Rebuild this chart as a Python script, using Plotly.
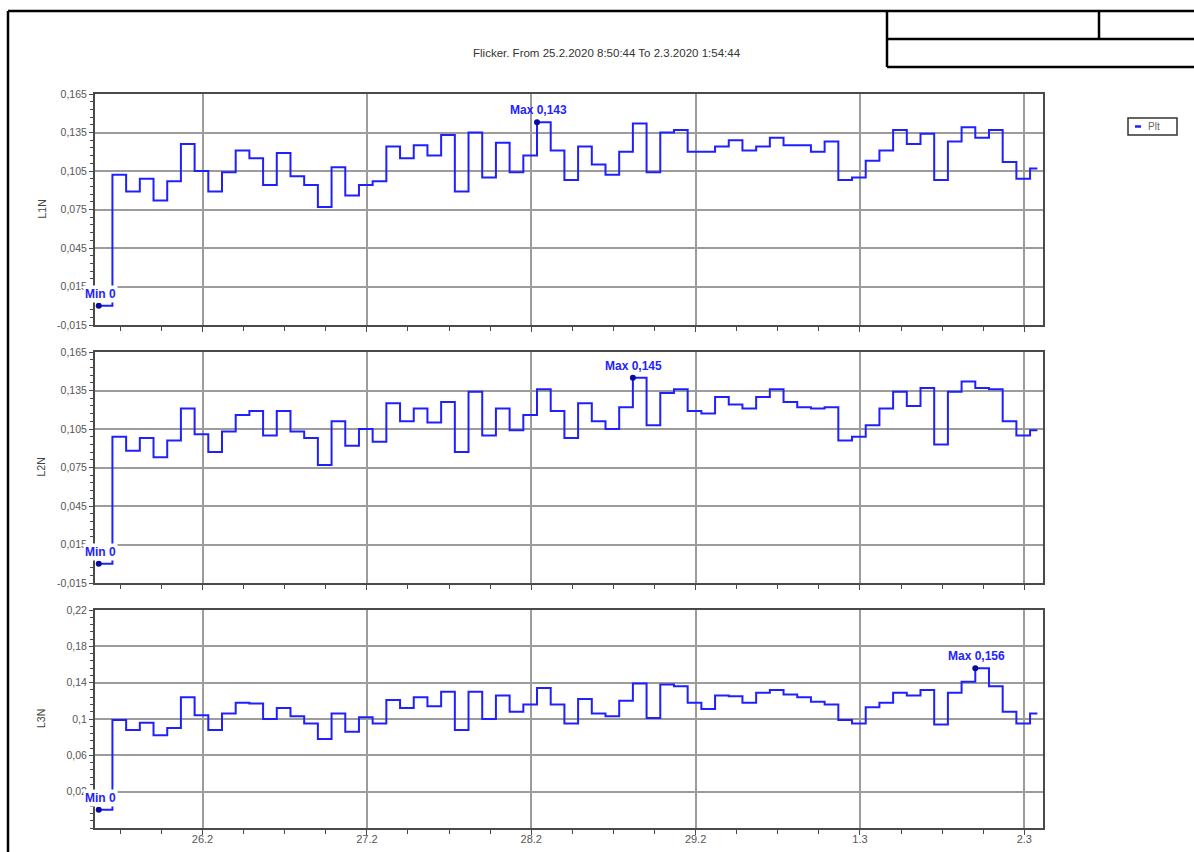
import pandas as pd
import plotly.graph_objects as go

# Measurement period and Plt aggregation interval
period_start = "2020-02-25 08:50:44"
period_end = "2020-03-02 01:54:44"
interval = "2h"

# Long-term flicker severity (Plt) per phase
l1n = [0.000, 0.102, 0.089, 0.099, 0.082, 0.097, 0.126, 0.105, 0.089, 0.104,
       0.121, 0.115, 0.094, 0.119, 0.101, 0.094, 0.077, 0.108, 0.086, 0.094,
       0.097, 0.124, 0.115, 0.125, 0.117, 0.133, 0.089, 0.135, 0.100, 0.127,
       0.104, 0.117, 0.143, 0.121, 0.098, 0.124, 0.110, 0.102, 0.120, 0.142,
       0.104, 0.135, 0.137, 0.120, 0.120, 0.124, 0.129, 0.121, 0.124, 0.131,
       0.125, 0.125, 0.120, 0.128, 0.098, 0.100, 0.113, 0.121, 0.137, 0.126,
       0.134, 0.098, 0.128, 0.139, 0.131, 0.137, 0.112, 0.099, 0.107]
l2n = [0.000, 0.099, 0.088, 0.098, 0.083, 0.096, 0.121, 0.101, 0.087, 0.103,
       0.116, 0.119, 0.100, 0.119, 0.103, 0.098, 0.077, 0.111, 0.092, 0.105,
       0.095, 0.125, 0.111, 0.121, 0.110, 0.126, 0.087, 0.134, 0.100, 0.121,
       0.104, 0.116, 0.136, 0.119, 0.098, 0.125, 0.111, 0.105, 0.122, 0.145,
       0.108, 0.133, 0.136, 0.119, 0.117, 0.130, 0.124, 0.121, 0.130, 0.136,
       0.126, 0.122, 0.121, 0.122, 0.096, 0.099, 0.108, 0.121, 0.134, 0.123,
       0.137, 0.093, 0.134, 0.142, 0.137, 0.136, 0.111, 0.100, 0.104]
l3n = [0.000, 0.099, 0.088, 0.096, 0.082, 0.090, 0.124, 0.104, 0.088, 0.106,
       0.118, 0.117, 0.100, 0.112, 0.103, 0.095, 0.078, 0.106, 0.086, 0.102,
       0.095, 0.121, 0.112, 0.124, 0.114, 0.130, 0.088, 0.130, 0.100, 0.126,
       0.108, 0.116, 0.134, 0.116, 0.095, 0.122, 0.106, 0.103, 0.120, 0.139,
       0.101, 0.138, 0.136, 0.118, 0.111, 0.126, 0.125, 0.118, 0.129, 0.132,
       0.127, 0.124, 0.119, 0.116, 0.099, 0.095, 0.113, 0.118, 0.129, 0.126,
       0.132, 0.094, 0.129, 0.141, 0.156, 0.136, 0.108, 0.095, 0.106]

panel_names = ["L1N", "L2N", "L3N"]
panel_values = [l1n, l2n, l3n]

y_ranges = [[-0.015, 0.165], [-0.015, 0.165], [-0.02, 0.22]]
y_tickvals = [
    [-0.015, 0.015, 0.045, 0.075, 0.105, 0.135, 0.165],
    [-0.015, 0.015, 0.045, 0.075, 0.105, 0.135, 0.165],
    [0.02, 0.06, 0.1, 0.14, 0.18, 0.22],
]
y_minor_step = [0.006, 0.006, 0.008]

day_ticks = ["2020-02-26", "2020-02-27", "2020-02-28", "2020-02-29",
             "2020-03-01", "2020-03-02"]
day_labels = ["26.2", "27.2", "28.2", "29.2", "1.3", "2.3"]
x_range = ["2020-02-25 08:18:00", "2020-03-02 02:44:00"]

title_text = "Flicker. From 25.2.2020 8:50:44 To 2.3.2020 1:54:44"
legend_label = "Plt"

# ---- page geometry (pixels) ----
W, H = 1194, 852
PLOT_X0, PLOT_X1 = 95, 1043
PANELS_PX = [(94, 325), (352, 583), (610, 828)]

LINE_BLUE = "#2020ff"
DOT_BLUE = "#0a0a9c"
LABEL_BLUE = "#2323ff"
FONT = "Liberation Sans, Arial, sans-serif"
GRID = "#9c9c9c"
AXIS = "#4a4a4a"


def px(x):
    return x / W


def py(y):
    return 1 - y / H


def fmt_num(v):
    s = f"{v:.3f}".rstrip("0").rstrip(".")
    return s.replace(".", ",") if s else "0"


def fmt_tick(v):
    return f"{v:g}".replace(".", ",")


times = list(pd.date_range(period_start, periods=len(l1n), freq=interval))
times.append(pd.Timestamp(period_end))

fig = go.Figure()
annotations = []
layout_axes = {}

for i, (name, vals) in enumerate(zip(panel_names, panel_values)):
    n = i + 1
    xa = "x" if n == 1 else f"x{n}"
    ya = "y" if n == 1 else f"y{n}"
    xkey = "xaxis" if n == 1 else f"xaxis{n}"
    ykey = "yaxis" if n == 1 else f"yaxis{n}"

    y_step = vals + [vals[-1]]
    fig.add_trace(go.Scatter(
        x=times, y=y_step, mode="lines", line=dict(color=LINE_BLUE, width=2, shape="hv"),
        name=legend_label, showlegend=False, xaxis=xa, yaxis=ya, hoverinfo="skip",
    ))

    i_max = max(range(len(vals)), key=lambda k: vals[k])
    i_min = min(range(len(vals)), key=lambda k: vals[k])
    fig.add_trace(go.Scatter(
        x=[times[i_min], times[i_max]], y=[vals[i_min], vals[i_max]], mode="markers",
        marker=dict(color=DOT_BLUE, size=6), showlegend=False, xaxis=xa, yaxis=ya,
        hoverinfo="skip",
    ))
    annotations.append(dict(
        x=times[i_max], y=vals[i_max], xref=xa, yref=ya, text=f"<b>Max {fmt_num(vals[i_max])}</b>",
        showarrow=False, xanchor="center", yanchor="bottom", yshift=3, xshift=1,
        font=dict(family=FONT, size=12, color=LABEL_BLUE),
    ))
    annotations.append(dict(
        x=times[i_min], y=vals[i_min], xref=xa, yref=ya, text=f"<b>Min {fmt_num(vals[i_min])}</b>",
        showarrow=False, xanchor="center", yanchor="bottom", yshift=3, xshift=2, bgcolor="white",
        font=dict(family=FONT, size=12, color=LABEL_BLUE),
    ))

    top, bottom = PANELS_PX[i]
    layout_axes[xkey] = dict(
        type="date", domain=[px(PLOT_X0), px(PLOT_X1)], anchor=ya, range=x_range,
        tickmode="array", tickvals=day_ticks, ticktext=day_labels,
        showticklabels=(n == 3), ticks="outside", ticklen=5, tickwidth=1.2, tickcolor=AXIS,
        ticklabelstandoff=-5,
        tickfont=dict(family=FONT, size=11, color="#555555"),
        showgrid=True, gridcolor=GRID, gridwidth=1.6,
        showline=True, linecolor=AXIS, linewidth=2, mirror=True, zeroline=False,
        minor=dict(tickmode="linear", tick0="2020-02-26", dtick=6 * 3600 * 1000,
                   ticks="outside", ticklen=4, tickcolor=AXIS, tickwidth=1, showgrid=False),
        automargin=False, fixedrange=True,
    )
    if n > 1:
        layout_axes[xkey]["matches"] = "x"
    layout_axes[ykey] = dict(
        domain=[py(bottom), py(top)], anchor=xa, range=y_ranges[i],
        tickmode="array", tickvals=y_tickvals[i], ticktext=[fmt_tick(v) for v in y_tickvals[i]],
        ticks="outside", ticklen=4, tickwidth=1.2, tickcolor=AXIS,
        tickfont=dict(family=FONT, size=10.5, color="#555555"),
        showgrid=True, gridcolor=GRID, gridwidth=1.6,
        showline=True, linecolor=AXIS, linewidth=2, mirror=True, zeroline=False,
        minor=dict(tickmode="linear", tick0=y_tickvals[i][0], dtick=y_minor_step[i],
                   ticks="outside", ticklen=3, tickcolor=AXIS, tickwidth=1, showgrid=False),
        automargin=False, fixedrange=True,
    )
    annotations.append(dict(
        x=px(41), y=py((top + bottom) / 2), xref="paper", yref="paper", text=name,
        textangle=-90, showarrow=False, xanchor="center", yanchor="middle",
        font=dict(family=FONT, size=10.5, color="#444444"),
    ))

annotations.append(dict(
    x=px(607), y=py(53), xref="paper", yref="paper", text=title_text, showarrow=False,
    xanchor="center", yanchor="middle",
    font=dict(family=FONT, size=11.5, color="#333333"),
))
annotations.append(dict(
    x=px(1146), y=py(126.5), xref="paper", yref="paper", text=legend_label, showarrow=False,
    xanchor="left", yanchor="middle", font=dict(family=FONT, size=10, color="#666666"),
))

black = dict(color="black", width=2.5)
shapes = [
    # sheet frame
    dict(type="line", xref="paper", yref="paper", x0=px(8), x1=px(W), y0=py(11), y1=py(11), line=black),
    dict(type="line", xref="paper", yref="paper", x0=px(8), x1=px(8), y0=py(11), y1=py(H), line=black),
    # title block
    dict(type="line", xref="paper", yref="paper", x0=px(887), x1=px(887), y0=py(11), y1=py(67), line=black),
    dict(type="line", xref="paper", yref="paper", x0=px(887), x1=px(W), y0=py(67), y1=py(67), line=black),
    dict(type="line", xref="paper", yref="paper", x0=px(887), x1=px(W), y0=py(39), y1=py(39), line=black),
    dict(type="line", xref="paper", yref="paper", x0=px(1099), x1=px(1099), y0=py(11), y1=py(39), line=black),
    # legend box
    dict(type="rect", xref="paper", yref="paper", x0=px(1128), x1=px(1177), y0=py(135), y1=py(118),
         line=dict(color="#333333", width=1.5), layer="below"),
    dict(type="line", xref="paper", yref="paper", x0=px(1135), x1=px(1141), y0=py(126.5), y1=py(126.5),
         line=dict(color=LINE_BLUE, width=2.5)),
]

fig.update_layout(
    width=W, height=H, margin=dict(l=0, r=0, t=0, b=0),
    paper_bgcolor="white", plot_bgcolor="white", showlegend=False,
    annotations=annotations, shapes=shapes, **layout_axes,
)

fig.write_html("out.html")
